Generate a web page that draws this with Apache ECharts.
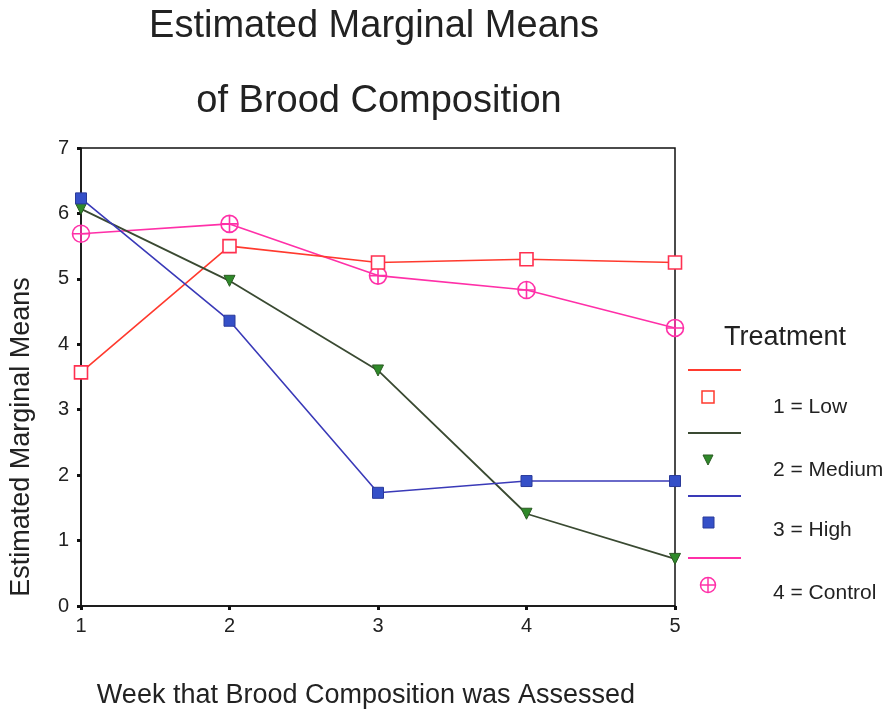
<!DOCTYPE html>
<html>
<head>
<meta charset="utf-8">
<script src="https://cdn.jsdelivr.net/npm/echarts@6/dist/echarts.min.js"></script>
<style>html,body{margin:0;padding:0;background:#fff}#c{width:885px;height:712px}</style>
</head>
<body>
<div id="c"></div>
<script>
const weeks = [1, 2, 3, 4, 5];
const low = [3.57, 5.50, 5.25, 5.30, 5.25];
const medium = [6.07, 4.97, 3.60, 1.41, 0.72];
const high = [6.23, 4.36, 1.73, 1.91, 1.91];
const control = [5.69, 5.84, 5.05, 4.83, 4.25];
const yTicks = [0, 1, 2, 3, 4, 5, 6, 7];
const seriesNames = ['1 = Low', '2 = Medium', '3 = High', '4 = Control'];

const FONT = 'Liberation Sans, Arial, sans-serif';
const crossCircle = 'path://M0,10 A10,10 0 1,1 20,10 A10,10 0 1,1 0,10 Z M10,0 L10,20 M0,10 L20,10';

function pts(vals){ return weeks.map((w,i)=>[w, vals[i]]); }

const chart = echarts.init(document.getElementById('c'), null, {renderer:'canvas'});

const legendY = [370, 433, 496, 558];
const markerY = [397, 460, 522, 585];
const labelY = [407, 470, 530, 593];
const lineColors = ['#ff3a2e', '#3a4a32', '#3a3ab8', '#ff30a8'];

const graphics = [
  {type:'text', style:{text:'Estimated Marginal Means', x:374, y:27, font:'38px ' + FONT, fill:'#222', textAlign:'center', textVerticalAlign:'middle'}},
  {type:'text', style:{text:'of Brood Composition', x:379, y:102, font:'38px ' + FONT, fill:'#222', textAlign:'center', textVerticalAlign:'middle'}},
  {type:'text', style:{text:'Treatment', x:785, y:338, font:'27px ' + FONT, fill:'#222', textAlign:'center', textVerticalAlign:'middle'}}
];

for (let i = 0; i < 4; i++) {
  graphics.push({type:'line', shape:{x1:688, y1:legendY[i], x2:741, y2:legendY[i]}, style:{stroke:lineColors[i], lineWidth:1.8}});
  graphics.push({type:'text', style:{text:seriesNames[i], x:773, y:labelY[i], font:'21px ' + FONT, fill:'#222', textAlign:'left', textVerticalAlign:'middle'}});
}
graphics.push({type:'rect', shape:{x:702, y:markerY[0]-6, width:12, height:12}, style:{fill:'#fff', stroke:'#ff3a2e', lineWidth:1.5}});
graphics.push({type:'polygon', shape:{points:[[703, markerY[1]-5],[713, markerY[1]-5],[708, markerY[1]+5]]}, style:{fill:'#2f8a2a', stroke:'#2a5a22', lineWidth:1}});
graphics.push({type:'rect', shape:{x:703, y:markerY[2]-5, width:11, height:11}, style:{fill:'#3550c8', stroke:'#2a3a9a', lineWidth:1}});
graphics.push({type:'circle', shape:{cx:708, cy:markerY[3], r:7.5}, style:{fill:'none', stroke:'#ff30a8', lineWidth:1.5}});
graphics.push({type:'line', shape:{x1:700.5, y1:markerY[3], x2:715.5, y2:markerY[3]}, style:{stroke:'#ff30a8', lineWidth:1.5}});
graphics.push({type:'line', shape:{x1:708, y1:markerY[3]-7.5, x2:708, y2:markerY[3]+7.5}, style:{stroke:'#ff30a8', lineWidth:1.5}});

const option = {
  backgroundColor: '#fff',
  animation: false,
  grid: {left: 81, right: 210, top: 148, bottom: 106, show: true, borderColor: '#111', borderWidth: 1.5,
         backgroundColor: 'transparent', containLabel: false, outerBoundsMode: 'none'},
  xAxis: {
    type: 'value', min: 1, max: 5, interval: 1,
    name: 'Week that Brood Composition was Assessed',
    nameLocation: 'middle', nameGap: 76,
    nameTextStyle: {fontSize: 27, color: '#222', fontFamily: FONT, padding: [0, 24, 0, 0]},
    axisLine: {show: true, lineStyle: {color: '#111', width: 1.5}},
    axisTick: {show: true, length: 4, lineStyle: {color: '#111', width: 3}},
    axisLabel: {fontSize: 20, color: '#222', fontFamily: FONT, margin: 10},
    splitLine: {show: false}
  },
  yAxis: {
    type: 'value', min: 0, max: 7, interval: 1,
    name: 'Estimated Marginal Means',
    nameLocation: 'middle', nameGap: 46,
    nameTextStyle: {fontSize: 27, color: '#222', fontFamily: FONT, padding: [0, 120, 0, 0]},
    axisLine: {show: true, lineStyle: {color: '#111', width: 1.5}},
    axisTick: {show: true, length: 4, lineStyle: {color: '#111', width: 3}},
    axisLabel: {fontSize: 20, color: '#222', fontFamily: FONT, margin: 12,
      formatter: v => yTicks.includes(v) ? String(v) : ''},
    splitLine: {show: false}
  },
  graphic: graphics,
  series: [
    {name: seriesNames[0], type: 'line', data: pts(low), symbol: 'rect', symbolSize: 13,
     lineStyle: {color: '#ff3a2e', width: 1.6}, itemStyle: {color: '#fff', borderColor: '#ff3050', borderWidth: 1.6}, z: 3},
    {name: seriesNames[1], type: 'line', data: pts(medium), symbol: 'triangle', symbolRotate: 180, symbolSize: 11,
     lineStyle: {color: '#3a4a32', width: 1.8}, itemStyle: {color: '#2f8a2a', borderColor: '#2a5a22', borderWidth: 1}, z: 4},
    {name: seriesNames[2], type: 'line', data: pts(high), symbol: 'rect', symbolSize: 11,
     lineStyle: {color: '#3a3ab8', width: 1.6}, itemStyle: {color: '#3550c8', borderColor: '#2a3a9a', borderWidth: 1}, z: 5},
    {name: seriesNames[3], type: 'line', data: pts(control), symbol: crossCircle, symbolSize: 17,
     lineStyle: {color: '#ff30a8', width: 1.6}, itemStyle: {color: 'rgba(255,255,255,0)', borderColor: '#ff30a8', borderWidth: 1.6}, z: 2}
  ]
};
chart.setOption(option);
</script>
</body>
</html>
